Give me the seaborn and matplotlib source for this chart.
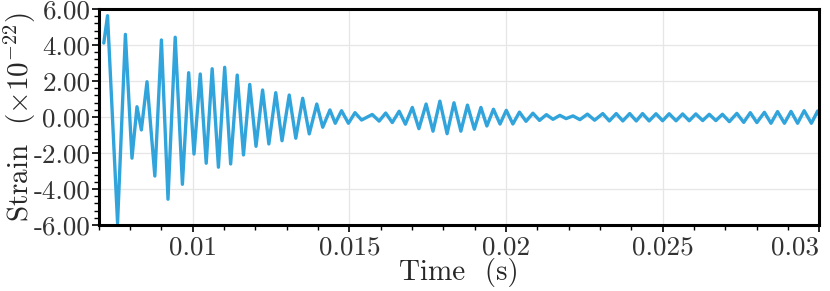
import matplotlib
matplotlib.use('Agg')
import matplotlib.pyplot as plt
from matplotlib.ticker import AutoMinorLocator, FixedLocator, FixedFormatter
import seaborn as sns
import pandas as pd

# ── Data: strain peaks/troughs ────────────────────────────────
time_s = [0.00716, 0.00728, 0.00760, 0.00785, 0.00806, 0.00822, 0.00836, 0.00854, 0.00879, 0.00900,
          0.00921, 0.00944, 0.00967, 0.00987, 0.01004, 0.01024, 0.01043, 0.01062, 0.01082, 0.01102,
          0.01121, 0.01142, 0.01162, 0.01182, 0.01202, 0.01223, 0.01243, 0.01265, 0.01285, 0.01308,
          0.01329, 0.01351, 0.01372, 0.01396, 0.01415, 0.01438, 0.01455, 0.01475, 0.01497, 0.01518,
          0.01539, 0.01573, 0.01595, 0.01616, 0.01637, 0.01659, 0.01679, 0.01701, 0.01722, 0.01745,
          0.01767, 0.01789, 0.01812, 0.01834, 0.01856, 0.01877, 0.01899, 0.01920, 0.01939, 0.01960,
          0.01981, 0.02001, 0.02022, 0.02043, 0.02064, 0.02086, 0.02107, 0.02129, 0.02150, 0.02172,
          0.02192, 0.02214, 0.02236, 0.02260, 0.02283, 0.02309, 0.02330, 0.02352, 0.02373, 0.02395,
          0.02416, 0.02436, 0.02457, 0.02479, 0.02500, 0.02521, 0.02543, 0.02564, 0.02585, 0.02606,
          0.02628, 0.02649, 0.02670, 0.02691, 0.02713, 0.02737, 0.02759, 0.02780, 0.02801, 0.02825,
          0.02846, 0.02867, 0.02889, 0.02910, 0.02931, 0.02952, 0.02975, 0.02995, 0.03000]
strain = [4.11, 5.63, -5.89, 4.59, -2.29, 0.57, -0.72, 1.96, -3.28, 4.28,
          -4.57, 4.43, -3.74, 2.46, -2.06, 2.39, -2.57, 2.68, -2.79, 2.76,
          -2.61, 2.33, -2.11, 1.81, -1.63, 1.50, -1.50, 1.35, -1.32, 1.22,
          -1.18, 1.04, -0.94, 0.72, -0.57, 0.39, -0.35, 0.35, -0.35, 0.24,
          -0.17, 0.14, -0.23, 0.22, -0.31, 0.32, -0.40, 0.53, -0.65, 0.72,
          -0.79, 0.88, -0.93, 0.79, -0.79, 0.66, -0.68, 0.53, -0.50, 0.43,
          -0.39, 0.37, -0.39, 0.27, -0.24, 0.21, -0.19, 0.13, -0.13, 0.09,
          -0.09, 0.06, -0.15, 0.16, -0.18, 0.19, -0.22, 0.19, -0.22, 0.19,
          -0.22, 0.19, -0.22, 0.18, -0.21, 0.18, -0.21, 0.17, -0.21, 0.17,
          -0.20, 0.15, -0.20, 0.15, -0.26, 0.20, -0.30, 0.24, -0.31, 0.26,
          -0.35, 0.30, -0.35, 0.31, -0.35, 0.35, -0.35, 0.33, 0.10]

x_ticks = [0.01, 0.015, 0.02, 0.025, 0.03]
x_labels = ['0.01', '0.015', '0.02', '0.025', '0.03']
y_ticks = [-6, -4, -2, 0, 2, 4, 6]
y_labels = ['-6.00', '-4.00', '-2.00', '0.00', '2.00', '4.00', '6.00']

df = pd.DataFrame({'time': time_s, 'strain': strain})

# ── Style ─────────────────────────────────────────────────────
sns.set_style('white')
plt.rcParams['font.family'] = ['cmr10', 'DejaVu Serif']
plt.rcParams['mathtext.fontset'] = 'cm'
plt.rcParams['axes.unicode_minus'] = False
plt.rcParams['axes.formatter.use_mathtext'] = True

fig = plt.figure(figsize=(8.3, 2.91), dpi=100)
ax = fig.add_axes([0.119, 0.227, 0.868, 0.742])

sns.lineplot(data=df, x='time', y='strain', ax=ax, color='#31a4dc',
             linewidth=2.4, solid_joinstyle='round', sort=False)

ax.set_xlim(0.007, 0.03)
ax.set_ylim(-6, 6)

ax.xaxis.set_major_locator(FixedLocator(x_ticks))
ax.xaxis.set_major_formatter(FixedFormatter(x_labels))
ax.yaxis.set_major_locator(FixedLocator(y_ticks))
ax.yaxis.set_major_formatter(FixedFormatter(y_labels))
ax.xaxis.set_minor_locator(AutoMinorLocator(5))
ax.yaxis.set_minor_locator(AutoMinorLocator(5))

ax.grid(True, which='major', color='#e6e6e6', linewidth=0.9)
ax.set_axisbelow(True)

for sp in ax.spines.values():
    sp.set_visible(True)
    sp.set_color('black')
    sp.set_linewidth(2.2)

ax.tick_params(which='major', direction='out', length=5, width=1.2,
               color='black', labelsize=19.5)
ax.tick_params(axis='y', which='major', pad=1)
ax.tick_params(axis='x', which='major', pad=3)
ax.tick_params(which='minor', direction='out', length=3.5, width=1.0, color='black')
ax.tick_params(axis='both', which='both', top=False, right=False, left=True, bottom=True)
for lab in ax.get_xticklabels() + ax.get_yticklabels():
    lab.set_color('#333333')
# last x label sits at the right edge, keep it inside the figure
ax.get_xticklabels()[-1].set_horizontalalignment('right')

ax.set_xlabel('Time  (s)', fontsize=21, labelpad=-1)
ax.set_ylabel(r'Strain  $(\times10^{-22})$', fontsize=21)
ax.yaxis.set_label_coords(-0.0845, 0.5)

fig.savefig('out.png', dpi=100)
plt.close(fig)
